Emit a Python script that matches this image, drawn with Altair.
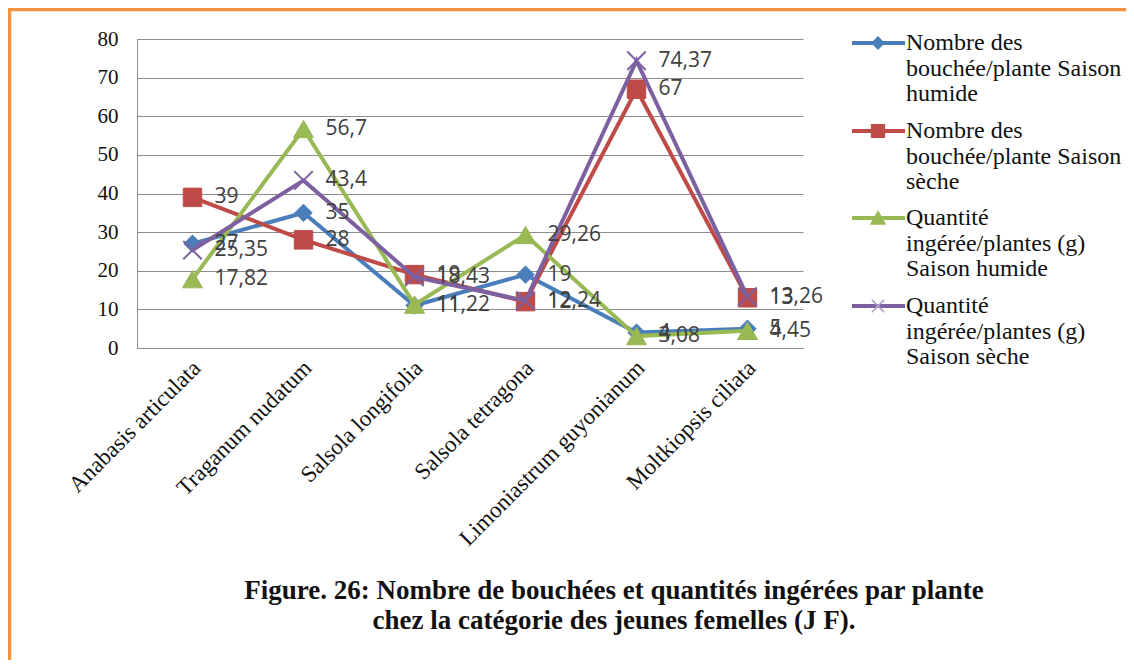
import altair as alt
import pandas as pd

# ---------------- data ----------------
categories = [
    "Anabasis articulata",
    "Traganum nudatum",
    "Salsola longifolia",
    "Salsola tetragona",
    "Limoniastrum  guyonianum",
    "Moltkiopsis ciliata",
]
series_names = [
    "Nombre des bouchée/plante Saison humide",
    "Nombre des bouchée/plante Saison sèche",
    "Quantité ingérée/plantes (g) Saison humide",
    "Quantité ingérée/plantes (g) Saison sèche",
]
legend_lines = [
    ["Nombre des", "bouchée/plante Saison", "humide"],
    ["Nombre des", "bouchée/plante Saison", "sèche"],
    ["Quantité", "ingérée/plantes (g)", "Saison humide"],
    ["Quantité", "ingérée/plantes (g)", "Saison sèche"],
]
bouchees_humide = [27, 35, 11, 19, 4, 5]
bouchees_seche = [39, 28, 19, 12, 67, 13]
quantite_humide = [17.82, 56.7, 11.22, 29.26, 3.08, 4.45]
quantite_seche = [25.35, 43.4, 18.43, 12.24, 74.37, 13.26]
y_ticks = [0, 10, 20, 30, 40, 50, 60, 70, 80]
title_lines = [
    "Figure. 26: Nombre de bouchées et quantités ingérées par plante",
    "chez la catégorie des jeunes femelles (J F).",
]

series_values = [bouchees_humide, bouchees_seche, quantite_humide, quantite_seche]
colors = ["#4A7EBB", "#BE4B48", "#98B954", "#7D60A0"]
shapes = ["diamond", "square", "triangle-up", "M-1,-1L1,1M-1,1L1,-1"]
sizes = [300, 340, 400, 340]
legend_sizes = [120, 150, 170, 150]

rows = []
for name, vals in zip(series_names, series_values):
    for c, v in zip(categories, vals):
        rows.append({"category": c, "series": name, "value": v,
                     "label": f"{v:g}".replace(".", ",")})
df = pd.DataFrame(rows)
dummy = pd.DataFrame({"k": [0]})

# ---------------- layout (pixels, relative to plot origin) ----------------
W, H = 666, 309
PAD_L, PAD_T = 129, 31
TOTAL_W, TOTAL_H = 1118, 652

x_enc = alt.X("category:N", sort=categories,
              scale=alt.Scale(type="point", padding=0.5),
              axis=alt.Axis(title=None, labelAngle=-45, labelAlign="right",
                            labelBaseline="middle", labelPadding=16,
                            labelOffset=4, labelLimit=0,
                            ticks=False, grid=False, domainColor="#8c8c8c",
                            labelFont="Liberation Serif", labelFontSize=23,
                            labelColor="#111111"))
y_enc = alt.Y("value:Q", scale=alt.Scale(domain=[0, 80], nice=False),
              axis=alt.Axis(title=None, values=y_ticks, ticks=False,
                            grid=True, gridColor="#8c8c8c", gridWidth=1,
                            domainColor="#8c8c8c", labelPadding=19,
                            labelFont="Liberation Serif", labelFontSize=21,
                            labelColor="#111111"))

layers = []
for i, name in enumerate(series_names):
    sub = df[df["series"] == name]
    base = alt.Chart(sub).encode(x=x_enc, y=y_enc)
    layers.append(base.mark_line(color=colors[i], strokeWidth=4))
    if i == 3:
        layers.append(base.mark_point(shape=shapes[i], size=sizes[i],
                                      filled=False, color=colors[i],
                                      strokeWidth=2, opacity=1))
    else:
        layers.append(base.mark_point(shape=shapes[i], size=sizes[i],
                                      filled=True, fill=colors[i],
                                      stroke=colors[i], strokeWidth=1,
                                      opacity=1))

# data labels
for i, name in enumerate(series_names):
    sub = df[df["series"] == name]
    layers.append(
        alt.Chart(sub).mark_text(align="left", baseline="middle", dx=22,
                                 font="Open Sans", fontSize=21,
                                 color="#404040")
        .encode(x=x_enc, y=y_enc, text="label:N")
    )

# legend (manual)
leg_y = [4, 92, 179, 267]
for i in range(4):
    yv = leg_y[i]
    layers.append(alt.Chart(dummy).mark_rule(color=colors[i], strokeWidth=4)
                  .encode(x=alt.value(715), x2=alt.value(768), y=alt.value(yv)))
    if i == 3:
        layers.append(alt.Chart(dummy).mark_point(shape=shapes[i], size=legend_sizes[i],
                                                  filled=False, color="#b0a0c8",
                                                  strokeWidth=1.5, opacity=1)
                      .encode(x=alt.value(741), y=alt.value(yv)))
    else:
        layers.append(alt.Chart(dummy).mark_point(shape=shapes[i], size=legend_sizes[i],
                                                  filled=True, fill=colors[i],
                                                  stroke=colors[i], opacity=1)
                      .encode(x=alt.value(741), y=alt.value(yv)))
    layers.append(alt.Chart(dummy).mark_text(align="left", baseline="top",
                                             font="Liberation Serif", fontSize=24,
                                             lineHeight=25.5, color="#111111",
                                             text=legend_lines[i])
                  .encode(x=alt.value(769), y=alt.value(yv - 12)))

# caption
for j, line in enumerate(title_lines):
    layers.append(alt.Chart(dummy).mark_text(align="center", baseline="middle",
                                             font="Liberation Serif", fontSize=27,
                                             fontWeight="bold", color="#111111",
                                             text=line)
                  .encode(x=alt.value(477), y=alt.value(552 + 30 * j)))

# orange frame (top and left)
layers.append(alt.Chart(dummy).mark_rule(color="#F2913F", strokeWidth=3.5)
              .encode(x=alt.value(-PAD_L), x2=alt.value(TOTAL_W - PAD_L),
                      y=alt.value(-PAD_T + 1.5)))
layers.append(alt.Chart(dummy).mark_rule(color="#F2913F", strokeWidth=3.5)
              .encode(x=alt.value(-PAD_L + 1.5), y=alt.value(-PAD_T),
                      y2=alt.value(TOTAL_H - PAD_T)))

chart = alt.layer(*layers).properties(
    width=W, height=H,
    padding={"left": PAD_L, "top": PAD_T,
             "right": TOTAL_W - PAD_L - W, "bottom": TOTAL_H - PAD_T - H},
    autosize=alt.AutoSizeParams(type="none"),
    background="white",
).configure_view(stroke=None)

chart.save("out.html", embed_options={"renderer": "svg", "actions": False})
